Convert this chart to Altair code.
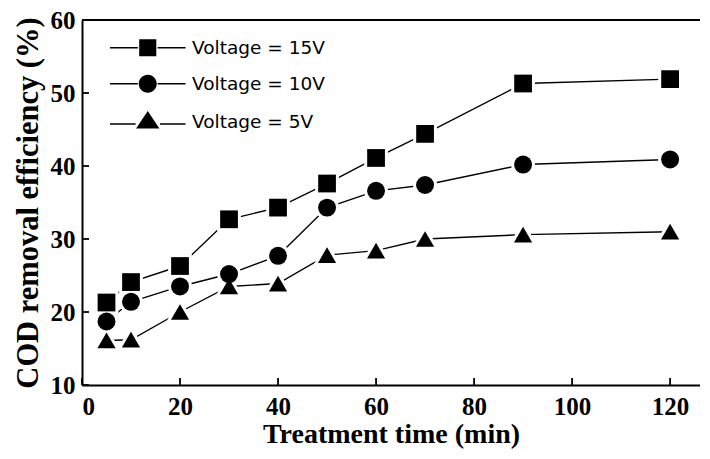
import altair as alt
import pandas as pd

# ---- data ----
time_min = [5, 10, 20, 30, 40, 50, 60, 70, 90, 120]
cod_15v = [21.3, 24.1, 26.3, 32.7, 34.3, 37.6, 41.1, 44.4, 51.3, 51.9]
cod_10v = [18.7, 21.4, 23.5, 25.2, 27.7, 34.3, 36.6, 37.4, 40.2, 40.9]
cod_5v = [16.1, 16.2, 20.0, 23.5, 23.9, 27.8, 28.4, 30.0, 30.6, 31.0]
series_labels = ["Voltage = 15V", "Voltage = 10V", "Voltage = 5V"]
x_ticks = [0, 20, 40, 60, 80, 100, 120]
y_ticks = [10, 20, 30, 40, 50, 60]

rows = []
for lab, vals in zip(series_labels, [cod_15v, cod_10v, cod_5v]):
    for t, v in zip(time_min, vals):
        rows.append({"series": lab, "time": t, "cod": v})
df = pd.DataFrame(rows)
xt = pd.DataFrame({"v": x_ticks})
yt = pd.DataFrame({"v": y_ticks})

W, H = 618, 365
SERIF = "Liberation Serif"
x_scale = alt.Scale(domain=[0, 126.1], nice=False, zero=False)
y_scale = alt.Scale(domain=[10, 60], nice=False, zero=False)
marker_shapes = alt.Scale(domain=series_labels, range=["square", "circle", "triangle-up"])
marker_sizes = alt.Scale(domain=series_labels, range=[315, 330, 540])
# legend glyphs: line - marker - line, all drawn as filled shapes
legend_paths = [
    "M-4.2,-0.085H-1.1V0.085H-4.2ZM1.1,-0.085H4.2V0.085H1.1ZM-0.95,-0.95H0.95V0.95H-0.95Z",
    "M-4.2,-0.085H-1.1V0.085H-4.2ZM1.1,-0.085H4.2V0.085H1.1ZM-1,0A1,1 0 1,0 1,0A1,1 0 1,0 -1,0Z",
    "M-4.2,0.165H-1.35V0.335H-4.2ZM1.35,0.165H4.2V0.335H1.35ZM0,-1.2L1.3,0.75H-1.3Z",
]

x_axis = alt.Axis(values=x_ticks, title="Treatment time (min)", grid=False, ticks=False, tickSize=0,
                  domainColor="black", domainWidth=2, labelFont=SERIF, labelFontWeight="bold",
                  labelFontSize=25, labelColor="black", labelPadding=9, titleFont=SERIF,
                  titleFontWeight="bold", titleFontSize=28, titleColor="black", titlePadding=1)
y_axis = alt.Axis(values=y_ticks, title="COD removal efficiency (%)", grid=False, ticks=False, tickSize=0,
                  domainColor="black", domainWidth=2, labelFont=SERIF, labelFontWeight="bold",
                  labelFontSize=25, labelColor="black", labelPadding=7, titleFont=SERIF,
                  titleFontWeight="bold", titleFontSize=30.5, titleColor="black", titlePadding=7)

base = alt.Chart(df)

lines = base.mark_line(color="black", strokeWidth=1.4).encode(
    x=alt.X("time:Q", scale=x_scale, axis=x_axis),
    y=alt.Y("cod:Q", scale=y_scale, axis=y_axis),
    detail="series:N",
)

halo = base.mark_point(filled=True, fill="white", stroke="white", strokeWidth=6, opacity=1).encode(
    x=alt.X("time:Q", scale=x_scale),
    y=alt.Y("cod:Q", scale=y_scale),
    shape=alt.Shape("series:N", scale=marker_shapes, legend=None),
    size=alt.Size("series:N", scale=marker_sizes, legend=None),
)

markers = base.mark_point(filled=True, fill="black", opacity=1).encode(
    x=alt.X("time:Q", scale=x_scale),
    y=alt.Y("cod:Q", scale=y_scale),
    shape=alt.Shape("series:N", scale=marker_shapes, legend=None),
    size=alt.Size("series:N", scale=marker_sizes, legend=None),
)

legend_layer = base.transform_filter("false").mark_point(
    filled=True, fill="black", size=324, opacity=1
).encode(
    shape=alt.Shape("series:N", scale=alt.Scale(domain=series_labels, range=legend_paths),
                    legend=alt.Legend(title=None, orient="none", legendX=56.5, legendY=18.5,
                                      symbolSize=324, symbolFillColor="black",
                                      symbolStrokeWidth=0, symbolOpacity=1,
                                      labelFont="DejaVu Sans", labelFontSize=18.5, labelColor="black",
                                      labelOffset=35, rowPadding=17, padding=0, labelLimit=400)),
)

yticks_in = alt.Chart(yt).mark_rule(color="black", strokeWidth=1.8).encode(
    y=alt.Y("v:Q", scale=y_scale), x=alt.value(0), x2=alt.value(7)
)
xticks_in = alt.Chart(xt).mark_rule(color="black", strokeWidth=1.8).encode(
    x=alt.X("v:Q", scale=x_scale), y=alt.value(H), y2=alt.value(H - 7)
)
top_border = alt.Chart(yt).mark_rule(color="black", strokeWidth=2).encode(
    y=alt.value(0), x=alt.value(0), x2=alt.value(W)
)

chart = alt.layer(lines, halo, markers, legend_layer, yticks_in, xticks_in, top_border).resolve_scale(
    shape="independent", size="independent"
).properties(
    width=W, height=H,
    autosize=alt.AutoSizeParams(type="none"),
    padding={"left": 74, "top": 12, "right": 0, "bottom": 66},
    background="white",
).configure_view(stroke=None)

chart.save("out.html", embed_options={"renderer": "svg", "actions": False})
